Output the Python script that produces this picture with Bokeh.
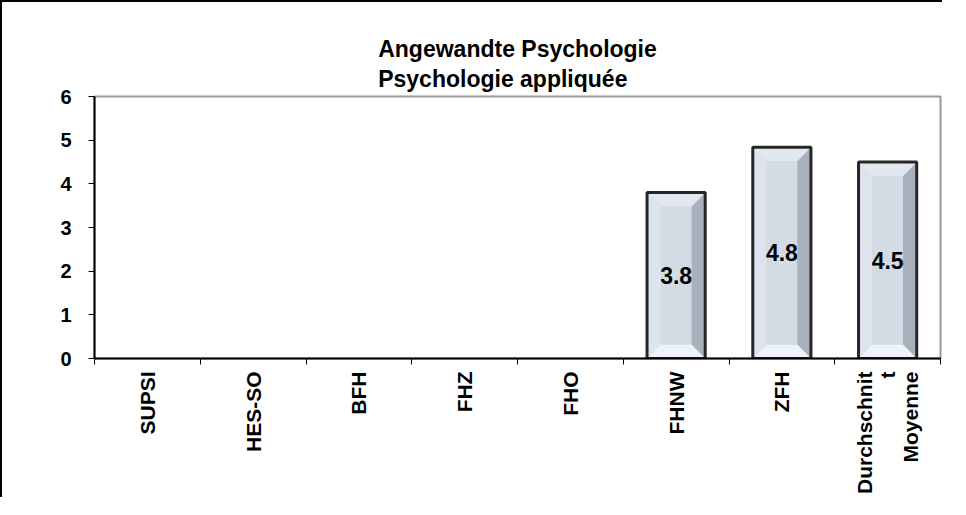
import math
from bokeh.plotting import figure
from bokeh.models import FixedTicker, ColumnDataSource
from bokeh.embed import file_html
from bokeh.resources import INLINE

# ---- data ----
categories = ["SUPSI", "HES-SO", "BFH", "FHZ", "FHO", "FHNW", "ZFH", "Durchschnit\nt\nMoyenne"]
values = [None, None, None, None, None, 3.8, 4.84, 4.5]
y_ticks = [0, 1, 2, 3, 4, 5, 6]
title_lines = ["Angewandte Psychologie", "Psychologie appliquée"]

FONT = "Liberation Sans"

positions = [i + 0.5 for i in range(len(categories))]

p = figure(width=942, height=497, output_backend="svg", toolbar_location=None,
           x_range=(0, len(categories)), y_range=(0, 6),
           min_border_left=92, min_border_right=4, min_border_top=94, min_border_bottom=141)
p.styles = {"border-left": "2px solid #000", "border-top": "2px solid #000"}

p.title.text = "\n".join(title_lines)
p.title.align = "center"
p.title.text_font = FONT
p.title.text_font_size = "23px"
p.title.text_font_style = "bold"
p.title.text_color = "#000000"
p.title.text_line_height = 1.15
p.title.standoff = 9

p.background_fill_color = "white"
p.border_fill_color = "white"
p.outline_line_color = "#9a9a9a"
p.outline_line_width = 2
p.xgrid.visible = False
p.ygrid.visible = False

# bars with bevel effect
bw = 0.55
bx = 0.13
by = 0.32
bar_x, bar_top = [], []
left_xs, left_ys, right_xs, right_ys = [], [], [], []
top_xs, top_ys, bot_xs, bot_ys = [], [], [], []
face_x, face_b, face_t = [], [], []
lab_x, lab_y, lab_t = [], [], []
for cx, v in zip(positions, values):
    if v is None:
        continue
    L, R = cx - bw / 2, cx + bw / 2
    bar_x.append(cx)
    bar_top.append(v)
    left_xs.append([L, L, L + bx, L + bx]); left_ys.append([0, v, v - by, by])
    right_xs.append([R, R, R - bx, R - bx]); right_ys.append([0, v, v - by, by])
    top_xs.append([L, R, R - bx, L + bx]); top_ys.append([v, v, v - by, v - by])
    bot_xs.append([L, R, R - bx, L + bx]); bot_ys.append([0, 0, by, by])
    face_x.append(cx); face_b.append(by); face_t.append(v - by)
    lab_x.append(cx); lab_y.append(v / 2); lab_t.append(f"{v:.1f}")

p.vbar(x=bar_x, top=bar_top, bottom=0, width=bw, fill_color="#cdd5df", line_color=None)
p.patches(left_xs, left_ys, fill_color="#dde4ee", line_color=None)
p.patches(right_xs, right_ys, fill_color="#a9b1bc", line_color=None)
p.patches(top_xs, top_ys, fill_color="#e2e8f0", line_color=None)
p.patches(bot_xs, bot_ys, fill_color="#eef3f9", line_color=None)
p.vbar(x=face_x, top=face_t, bottom=face_b, width=bw - 2 * bx, fill_color="#d3dbe5", line_color=None)
p.vbar(x=bar_x, top=bar_top, bottom=0, width=bw, fill_alpha=0, line_color="#262626", line_width=3)

src = ColumnDataSource(dict(x=lab_x, y=lab_y, t=lab_t))
p.text(x="x", y="y", text="t", source=src, text_align="center", text_baseline="middle",
       text_font={"value": FONT}, text_font_size={"value": "23px"}, text_font_style="bold",
       text_color="#000000")

# x axis: tick marks between categories, labels at category centres
xa = p.xaxis[0]
xa.ticker = FixedTicker(ticks=positions, minor_ticks=list(range(len(categories) + 1)))
xa.major_label_overrides = {pos: lab for pos, lab in zip(positions, categories)}
xa.major_label_orientation = math.pi / 2
xa.major_tick_out = 0
xa.major_tick_in = 0
xa.minor_tick_out = 6
xa.minor_tick_in = 0
xa.minor_tick_line_color = "#000000"
xa.minor_tick_line_width = 1
xa.axis_line_color = "#000000"
xa.axis_line_width = 2
xa.major_label_standoff = 7
xa.major_label_text_font = FONT
xa.major_label_text_font_size = "21px"
xa.major_label_text_font_style = "bold"
xa.major_label_text_color = "#000000"
xa.major_label_text_line_height = 1.0

# y axis
ya = p.yaxis[0]
ya.ticker = FixedTicker(ticks=y_ticks, minor_ticks=[])
ya.major_tick_out = 6
ya.major_tick_in = 0
ya.major_tick_line_color = "#000000"
ya.axis_line_color = "#000000"
ya.axis_line_width = 2
ya.major_label_standoff = 17
ya.major_label_text_font = FONT
ya.major_label_text_font_size = "20px"
ya.major_label_text_font_style = "bold"
ya.major_label_text_color = "#000000"

open("out.html", "w").write(file_html(p, INLINE))
